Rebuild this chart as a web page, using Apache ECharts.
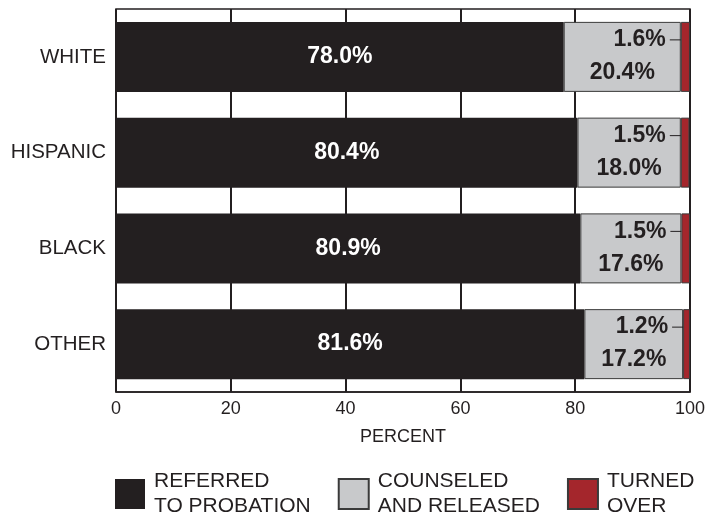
<!DOCTYPE html>
<html>
<head>
<meta charset="utf-8">
<script src="https://cdn.jsdelivr.net/npm/echarts@6/dist/echarts.min.js"></script>
<style>
html,body{margin:0;padding:0;background:#fff;}
#chart{width:708px;height:518px;}
</style>
</head>
<body>
<div id="chart"></div>
<script>
const categories = ['WHITE', 'HISPANIC', 'BLACK', 'OTHER'];
const referred = [78.0, 80.4, 80.9, 81.6];
const counseled = [20.4, 18.0, 17.6, 17.2];
const turnedOver = [1.6, 1.5, 1.5, 1.2];
const xTicks = [0, 20, 40, 60, 80, 100];
const seriesNames = ['REFERRED\nTO PROBATION', 'COUNSELED\nAND RELEASED', 'TURNED\nOVER'];

const INK = '#231f20';
const FONT = '"Liberation Sans", Arial, Helvetica, sans-serif';

const chart = echarts.init(document.getElementById('chart'), null, {renderer: 'canvas'});
const fmt = p => p.value.toFixed(1) + '%';

chart.setOption({
  animation: false,
  textStyle: {fontFamily: FONT},
  grid: {left: 116, right: 18, top: 9, bottom: 126, show: true, borderColor: INK, borderWidth: 1.5, backgroundColor: '#fff'},
  xAxis: {
    type: 'value', min: xTicks[0], max: xTicks[xTicks.length - 1], interval: 20,
    name: 'PERCENT', nameLocation: 'middle', nameGap: 36,
    nameTextStyle: {fontSize: 18, color: INK, fontFamily: FONT},
    axisLine: {show: true, lineStyle: {color: INK, width: 1.5}},
    axisTick: {show: false},
    axisLabel: {fontSize: 18, color: INK, margin: 8, fontFamily: FONT},
    splitLine: {show: true, lineStyle: {color: INK, width: 2}}
  },
  yAxis: {
    type: 'category', data: categories, inverse: true,
    axisLine: {show: false}, axisTick: {show: false},
    axisLabel: {fontSize: 20.5, color: INK, margin: 10, fontFamily: FONT}
  },
  legend: {
    left: 115, top: 469, padding: 0, itemWidth: 30, itemHeight: 30, itemGap: 27, icon: 'rect',
    data: seriesNames,
    textStyle: {fontSize: 21, lineHeight: 25, color: INK, fontFamily: FONT, padding: [0, 0, 0, 4]}
  },
  series: [
    {
      name: seriesNames[0], type: 'bar', stack: 'all', barWidth: 70, data: referred,
      itemStyle: {color: INK},
      label: {show: true, position: 'inside', formatter: fmt, color: '#fff', fontSize: 23, fontWeight: 'bold', fontFamily: FONT}
    },
    {
      name: seriesNames[1], type: 'bar', stack: 'all', barWidth: 70, data: counseled,
      itemStyle: {color: '#c8c9cb', borderColor: '#3a3a3a', borderWidth: 1},
      label: {show: true, position: 'inside', offset: [0, 16], formatter: fmt, color: INK, fontSize: 23, fontWeight: 'bold', fontFamily: FONT}
    },
    {
      name: seriesNames[2], type: 'bar', stack: 'all', barWidth: 70, data: turnedOver,
      itemStyle: {color: '#a4262c', borderColor: '#3a3a3a', borderWidth: 1},
      label: {
        show: true, position: 'left', distance: 0, offset: [0, -17],
        formatter: p => '{v|' + p.value.toFixed(1) + '%}{sp|}{ln|}',
        rich: {
          v: {fontSize: 23, fontWeight: 'bold', color: INK, fontFamily: FONT},
          sp: {width: 4, height: 1},
          ln: {width: 11, height: 1, backgroundColor: INK}
        }
      }
    }
  ]
});
</script>
</body>
</html>
